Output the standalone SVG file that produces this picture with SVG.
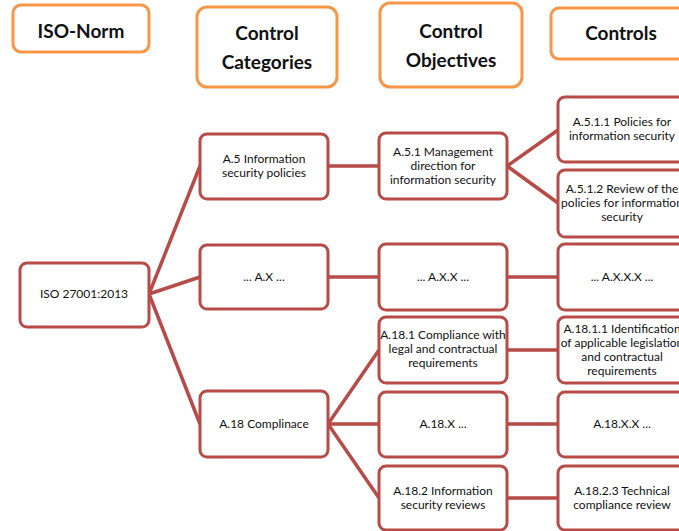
<svg xmlns="http://www.w3.org/2000/svg" width="679" height="531" viewBox="0 0 679 531">
<style>
.hdr{fill:#fff;stroke:#F79646;stroke-width:3}
.nd{fill:#fff;stroke:#B64B48;stroke-width:3}
.ht{font-family:Lato,"Open Sans","Liberation Sans",sans-serif;font-weight:bold;font-size:19px;fill:#111;text-anchor:middle}
.t{font-family:Lato,"Open Sans","Liberation Sans",sans-serif;font-size:12px;fill:#111;text-anchor:middle}
.c{fill:none;stroke:#B64B48;stroke-width:3.5}
</style>
<rect width="679" height="531" fill="#fff"/>
<g id="connectors">
<path class="c" d="M149 294L200 166M149 294L200 277M149 294L200 424"/>
<path class="c" d="M328 166H379M507 166L558 130M507 166L558 203"/>
<path class="c" d="M328 277H379M507 277H558"/>
<path class="c" d="M328 424L379 350M328 424H379M328 424L379 498"/>
<path class="c" d="M507 350H558M507 424H558M507 498H558"/>
</g>
<g id="h-iso"><rect class="hdr" x="13" y="5" width="136" height="47" rx="8"/><text class="ht" x="81" y="38">ISO-Norm</text></g>
<g id="h-cat"><rect class="hdr" x="197" y="7" width="140" height="80" rx="10"/><text class="ht" x="267" y="40">Control</text><text class="ht" x="267" y="69">Categories</text></g>
<g id="h-obj"><rect class="hdr" x="380" y="3" width="142" height="84" rx="10"/><text class="ht" x="451" y="38">Control</text><text class="ht" x="451" y="67">Objectives</text></g>
<g id="h-ctl"><rect class="hdr" x="551" y="8" width="140" height="51" rx="8"/><text class="ht" x="621" y="40">Controls</text></g>

<g id="n-iso"><rect class="nd" x="20" y="263" width="129" height="64" rx="7"/><text class="t" x="84" y="298">ISO 27001:2013</text></g>
<g id="n-a5"><rect class="nd" x="200" y="134" width="128" height="65" rx="7"/><text class="t" x="264" y="163">A.5 Information</text><text class="t" x="264" y="177">security policies</text></g>
<g id="n-ax"><rect class="nd" x="200" y="245" width="128" height="64" rx="7"/><text class="t" x="264" y="281">... A.X ...</text></g>
<g id="n-a18"><rect class="nd" x="200" y="391" width="128" height="66" rx="7"/><text class="t" x="264" y="428">A.18 Complinace</text></g>

<g id="n-a51"><rect class="nd" x="379" y="133" width="128" height="66" rx="7"/><text class="t" x="443" y="156">A.5.1 Management</text><text class="t" x="443" y="170">direction for</text><text class="t" x="443" y="184">information security</text></g>
<g id="n-axx"><rect class="nd" x="379" y="244" width="128" height="66" rx="7"/><text class="t" x="443" y="281">... A.X.X ...</text></g>
<g id="n-a181"><rect class="nd" x="379" y="317" width="128" height="66" rx="7"/><text class="t" x="443" y="339">A.18.1 Compliance with</text><text class="t" x="443" y="353">legal and contractual</text><text class="t" x="443" y="367">requirements</text></g>
<g id="n-a18x"><rect class="nd" x="379" y="392" width="128" height="65" rx="7"/><text class="t" x="443" y="428">A.18.X ...</text></g>
<g id="n-a182"><rect class="nd" x="379" y="466" width="128" height="64" rx="7"/><text class="t" x="443" y="495">A.18.2 Information</text><text class="t" x="443" y="509">security reviews</text></g>

<g id="n-a511"><rect class="nd" x="558" y="97" width="130" height="65" rx="7"/><text class="t" x="622" y="126">A.5.1.1 Policies for</text><text class="t" x="622" y="140">information security</text></g>
<g id="n-a512"><rect class="nd" x="558" y="170" width="130" height="67" rx="7"/><text class="t" x="622" y="193">A.5.1.2 Review of the</text><text class="t" x="622" y="207">policies for information</text><text class="t" x="622" y="221">security</text></g>
<g id="n-axxx"><rect class="nd" x="558" y="244" width="130" height="66" rx="7"/><text class="t" x="622" y="281">... A.X.X.X ...</text></g>
<g id="n-a1811"><rect class="nd" x="558" y="317" width="130" height="66" rx="7"/><text class="t" x="622" y="333">A.18.1.1 Identification</text><text class="t" x="622" y="347">of applicable legislation</text><text class="t" x="622" y="361">and contractual</text><text class="t" x="622" y="375">requirements</text></g>
<g id="n-a18xx"><rect class="nd" x="558" y="392" width="130" height="65" rx="7"/><text class="t" x="622" y="428">A.18.X.X ...</text></g>
<g id="n-a1823"><rect class="nd" x="558" y="466" width="130" height="64" rx="7"/><text class="t" x="622" y="495">A.18.2.3 Technical</text><text class="t" x="622" y="509">compliance review</text></g>
</svg>
